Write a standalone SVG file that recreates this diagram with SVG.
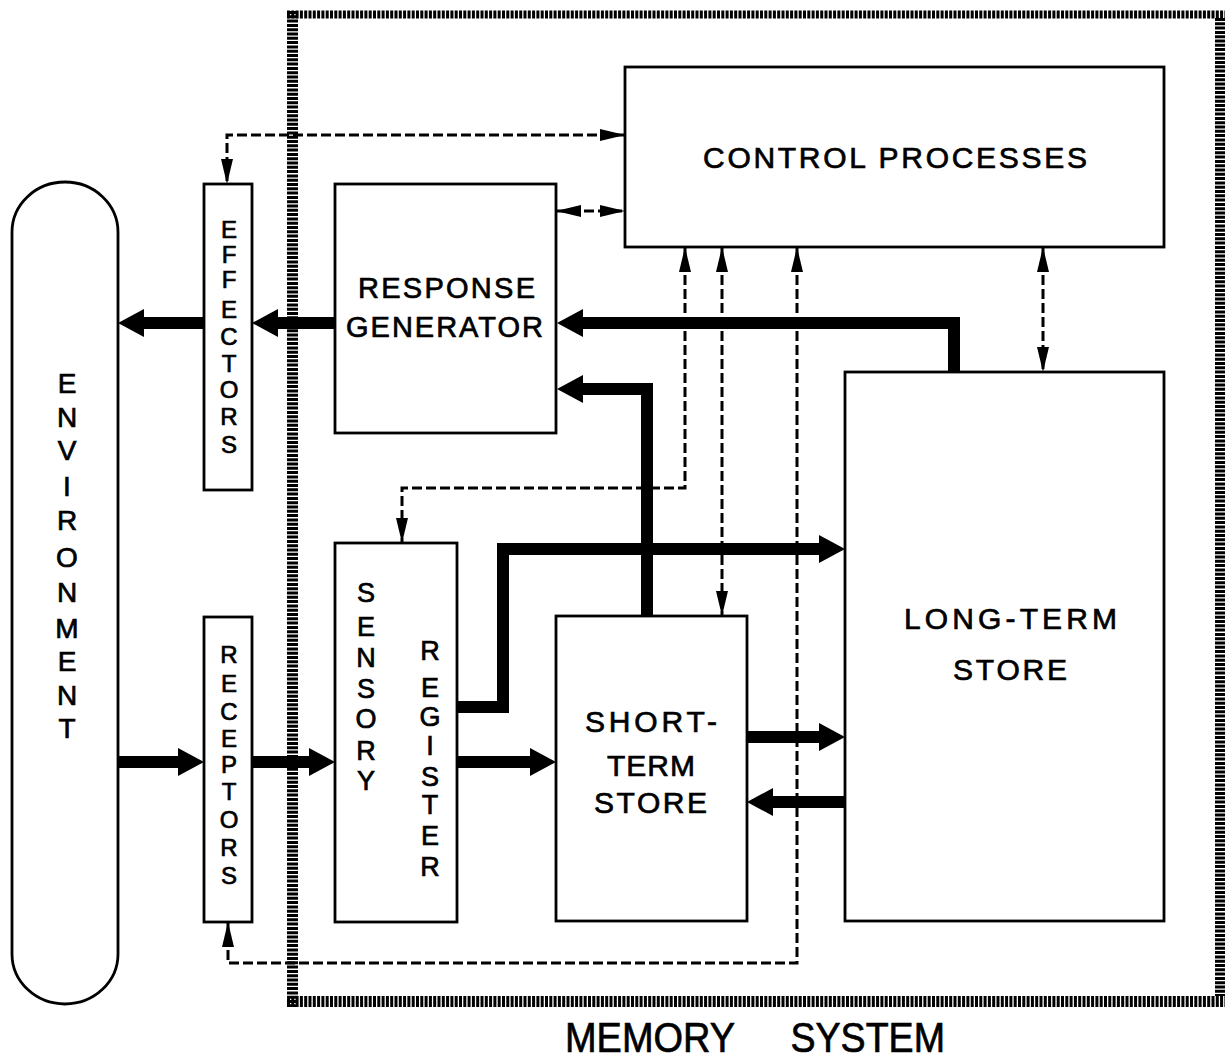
<svg xmlns="http://www.w3.org/2000/svg" width="1225" height="1059" viewBox="0 0 1225 1059">
<style>
  .box { fill: #fff; stroke: #000; stroke-width: 2.8; }
  .lbl { font-family: "Liberation Sans", "DejaVu Sans", Arial, sans-serif; fill: #000; stroke: #000; stroke-width: 0.7; }
  .thick { fill: none; stroke: #000; stroke-width: 12; stroke-linejoin: miter; }
  .dash { fill: none; stroke: #000; stroke-width: 3; stroke-dasharray: 10 4; }
  .band { stroke: #000; stroke-dasharray: 3 1.3; fill: none; }
</style>
<defs>
  <marker id="big" viewBox="0 -14 26 28" refX="1" refY="0" markerUnits="userSpaceOnUse" markerWidth="26" markerHeight="28" orient="auto">
    <path d="M0,-14 L26,0 L0,14 z" fill="#000"/>
  </marker>
  <marker id="small" viewBox="0 -6 25 12" refX="25" refY="0" markerUnits="userSpaceOnUse" markerWidth="25" markerHeight="12" orient="auto-start-reverse">
    <path d="M0,-6 L25,0 L0,6 z" fill="#000"/>
  </marker>
</defs>
<rect width="1225" height="1059" fill="#fff"/>

<g id="memory-system">
  <line class="band" x1="287" y1="14.5" x2="1225" y2="14.5" stroke-width="8"/>
  <line class="band" x1="1220" y1="18" x2="1220" y2="996" stroke-width="10"/>
  <line class="band" x1="287" y1="1001.5" x2="1225" y2="1001.5" stroke-width="11"/>
  <line class="band" x1="292.5" y1="11" x2="292.5" y2="1007" stroke-width="11"/>
  <text class="lbl" font-size="42" y="1052"><tspan x="565" textLength="170" lengthAdjust="spacingAndGlyphs">MEMORY</tspan><tspan x="780" textLength="165" lengthAdjust="spacingAndGlyphs"> SYSTEM</tspan></text>
</g>

<g id="environment">
  <rect class="box" x="12" y="182" width="106" height="822" rx="53" ry="50"/>
  <text class="lbl" font-size="28" text-anchor="middle"><tspan x="67" y="393">E</tspan><tspan x="67" y="427">N</tspan><tspan x="67" y="460">V</tspan><tspan x="67" y="496">I</tspan><tspan x="67" y="530">R</tspan><tspan x="67" y="567">O</tspan><tspan x="67" y="602">N</tspan><tspan x="67" y="638">M</tspan><tspan x="67" y="671">E</tspan><tspan x="67" y="705">N</tspan><tspan x="67" y="738">T</tspan></text>
</g>

<g id="effectors">
  <rect class="box" x="204" y="184" width="48" height="306"/>
  <text class="lbl" font-size="24" text-anchor="middle"><tspan x="229" y="238">E</tspan><tspan x="229" y="263">F</tspan><tspan x="229" y="288">F</tspan><tspan x="229" y="318">E</tspan><tspan x="229" y="345">C</tspan><tspan x="229" y="372">T</tspan><tspan x="229" y="398">O</tspan><tspan x="229" y="425">R</tspan><tspan x="229" y="453">S</tspan></text>
</g>

<g id="receptors">
  <rect class="box" x="204" y="617" width="48" height="305"/>
  <text class="lbl" font-size="24" text-anchor="middle"><tspan x="229" y="663">R</tspan><tspan x="229" y="692">E</tspan><tspan x="229" y="720">C</tspan><tspan x="229" y="747">E</tspan><tspan x="229" y="773">P</tspan><tspan x="229" y="800">T</tspan><tspan x="229" y="828">O</tspan><tspan x="229" y="856">R</tspan><tspan x="229" y="884">S</tspan></text>
</g>

<g id="control-processes">
  <rect class="box" x="625" y="67" width="539" height="180"/>
  <text class="lbl" font-size="30" x="703" y="168" textLength="384" lengthAdjust="spacing">CONTROL PROCESSES</text>
</g>

<g id="response-generator">
  <rect class="box" x="335" y="184" width="221" height="249"/>
  <text class="lbl" font-size="29" x="358" y="298" textLength="177" lengthAdjust="spacing">RESPONSE</text>
  <text class="lbl" font-size="29" x="346" y="337" textLength="197" lengthAdjust="spacing">GENERATOR</text>
</g>

<g id="sensory-register">
  <rect class="box" x="335" y="543" width="122" height="379"/>
  <text class="lbl" font-size="27" text-anchor="middle"><tspan x="366" y="602">S</tspan><tspan x="366" y="636">E</tspan><tspan x="366" y="667">N</tspan><tspan x="366" y="698">S</tspan><tspan x="366" y="728">O</tspan><tspan x="366" y="760">R</tspan><tspan x="366" y="790">Y</tspan></text>
  <text class="lbl" font-size="27" text-anchor="middle"><tspan x="430" y="660">R</tspan><tspan x="430" y="697">E</tspan><tspan x="430" y="726">G</tspan><tspan x="430" y="755">I</tspan><tspan x="430" y="786">S</tspan><tspan x="430" y="814">T</tspan><tspan x="430" y="845">E</tspan><tspan x="430" y="876">R</tspan></text>
</g>

<g id="short-term-store">
  <rect class="box" x="556" y="616" width="191" height="305"/>
  <text class="lbl" font-size="30" x="585" y="732" textLength="132" lengthAdjust="spacing">SHORT-</text>
  <text class="lbl" font-size="30" x="607" y="776" textLength="88" lengthAdjust="spacing">TERM</text>
  <text class="lbl" font-size="30" x="594" y="813" textLength="113" lengthAdjust="spacing">STORE</text>
</g>

<g id="long-term-store">
  <rect class="box" x="845" y="372" width="319" height="549"/>
  <text class="lbl" font-size="30" x="904" y="629" textLength="213" lengthAdjust="spacing">LONG-TERM</text>
  <text class="lbl" font-size="30" x="953" y="680" textLength="114" lengthAdjust="spacing">STORE</text>
</g>

<g id="connectors">
  <path class="thick" marker-end="url(#big)" d="M118,762 H179"/>
  <path class="thick" marker-end="url(#big)" d="M252,762 H310"/>
  <path class="thick" marker-end="url(#big)" d="M457,762 H531"/>
  <path class="thick" marker-end="url(#big)" d="M457,707 H503 V549 H820"/>
  <path class="thick" marker-end="url(#big)" d="M647,616 V389 H582"/>
  <path class="thick" marker-end="url(#big)" d="M954,372 V323 H582"/>
  <path class="thick" marker-end="url(#big)" d="M335,323 H277"/>
  <path class="thick" marker-end="url(#big)" d="M204,323 H143"/>
  <path class="thick" marker-end="url(#big)" d="M747,737 H820"/>
  <path class="thick" marker-end="url(#big)" d="M845,802 H772"/>

  <path class="dash" marker-start="url(#small)" marker-end="url(#small)" d="M625,135 H227 V184"/>
  <path class="dash" marker-start="url(#small)" marker-end="url(#small)" d="M556,211 H625"/>
  <path class="dash" marker-start="url(#small)" marker-end="url(#small)" d="M685,247 V488 H402 V543"/>
  <path class="dash" marker-start="url(#small)" marker-end="url(#small)" d="M722,247 V616"/>
  <path class="dash" marker-start="url(#small)" marker-end="url(#small)" d="M797,247 V963 H228 V922"/>
  <path class="dash" marker-start="url(#small)" marker-end="url(#small)" d="M1043,247 V372"/>
</g>
</svg>
